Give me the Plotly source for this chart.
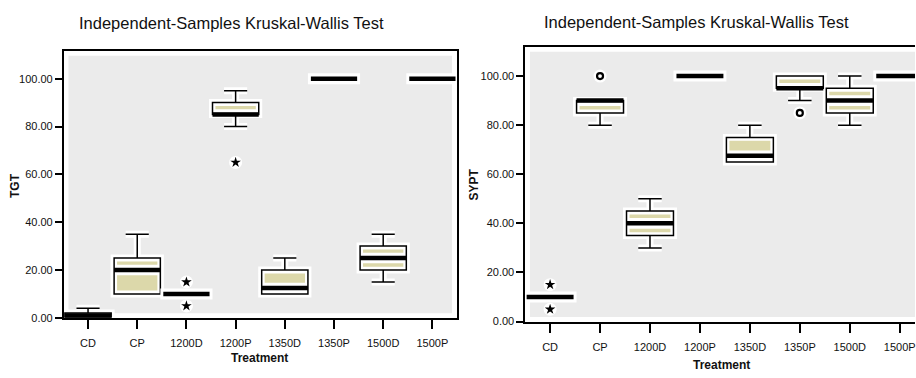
import plotly.graph_objects as go

# ---------------- data ----------------
categories = ["CD", "CP", "1200D", "1200P", "1350D", "1350P", "1500D", "1500P"]

tgt_low = [0, 10, 10, 80, 10, 100, 15, 100]
tgt_q1 = [0, 10, 10, 85, 10, 100, 20, 100]
tgt_med = [1, 20, 10, 85, 12.5, 100, 25, 100]
tgt_q3 = [2, 25, 10, 90, 20, 100, 30, 100]
tgt_high = [4, 35, 10, 95, 25, 100, 35, 100]
tgt_out_cat = ["1200D", "1200D", "1200P"]
tgt_out_val = [15, 5, 65]
tgt_out_kind = ["star", "star", "star"]

sypt_low = [10, 80, 30, 100, 65, 90, 80, 100]
sypt_q1 = [10, 85, 35, 100, 65, 95, 85, 100]
sypt_med = [10, 90, 40, 100, 67.5, 95, 90, 100]
sypt_q3 = [10, 90, 45, 100, 75, 100, 95, 100]
sypt_high = [10, 90, 50, 100, 80, 100, 100, 100]
sypt_out_cat = ["CD", "CD", "CP", "1350P"]
sypt_out_val = [15, 5, 100, 85]
sypt_out_kind = ["star", "star", "circle", "circle"]

y_ticks = [0, 20, 40, 60, 80, 100]

# ---------------- style ----------------
W, H = 916, 378
FONT = "Liberation Sans, Arial, sans-serif"
BG = "#EBEBEB"
BEIGE = "#DCD8AA"
BW = 0.94          # box width (category units)
INSET_EDGE = 1.4   # beige inset from box edge (value units)
INSET_MED = 2.2    # beige inset from median (value units)
INSET_X = 0.06


def px(x):
    return x / W


def py(y):
    return 1 - y / H


fig = go.Figure()


def add_panel(xa, ya, low, q1, med, q3, high, out_cat, out_val, out_kind):
    idx = list(range(len(categories)))
    common = dict(xaxis=xa, yaxis=ya, hoverinfo="skip", showlegend=False)
    # white halo
    fig.add_trace(go.Box(x=idx, q1=q1, median=med, q3=q3, lowerfence=low, upperfence=high,
                         width=BW, whiskerwidth=0.5, fillcolor="white",
                         line=dict(color="white", width=7), boxpoints=False, **common))
    # beige inner bands
    up_x, up_lo, up_hi, dn_x, dn_lo, dn_hi = [], [], [], [], [], []
    for i in idx:
        if (q3[i] - med[i]) - INSET_EDGE - INSET_MED > 0:
            up_x.append(i); up_lo.append(med[i] + INSET_MED); up_hi.append(q3[i] - INSET_EDGE)
        if (med[i] - q1[i]) - INSET_EDGE - INSET_MED > 0:
            dn_x.append(i); dn_lo.append(q1[i] + INSET_EDGE); dn_hi.append(med[i] - INSET_MED)
    for bx, blo, bhi in ((up_x, up_lo, up_hi), (dn_x, dn_lo, dn_hi)):
        if bx:
            fig.add_trace(go.Box(x=bx, q1=blo, median=blo, q3=bhi, lowerfence=blo, upperfence=bhi,
                                 width=BW - 2 * INSET_X, whiskerwidth=0, fillcolor=BEIGE,
                                 line=dict(color=BEIGE, width=0), boxpoints=False, **common))
    # outline
    fig.add_trace(go.Box(x=idx, q1=q1, median=med, q3=q3, lowerfence=low, upperfence=high,
                         width=BW, whiskerwidth=0.5, fillcolor="rgba(0,0,0,0)",
                         line=dict(color="black", width=1.5), boxpoints=False, **common))
    # halo for collapsed boxes
    hx, hy = [], []
    for i in idx:
        if q1[i] == q3[i]:
            hx += [i - BW / 2 - 0.06, i + BW / 2 + 0.06, None]
            hy += [med[i], med[i], None]
    if hx:
        fig.add_trace(go.Scatter(x=hx, y=hy, mode="lines", line=dict(color="white", width=11), **common))
    # thick median
    mx, my = [], []
    for i in idx:
        mx += [i - BW / 2, i + BW / 2, None]
        my += [med[i], med[i], None]
    fig.add_trace(go.Scatter(x=mx, y=my, mode="lines", line=dict(color="black", width=4.5), **common))
    # outliers
    ox = [categories.index(c) for c in out_cat]
    fig.add_trace(go.Scatter(x=ox, y=out_val, mode="markers",
                             marker=dict(symbol="circle", size=13, color="white"), **common))
    sx = [ox[k] for k in range(len(ox)) if out_kind[k] == "star"]
    sy = [out_val[k] for k in range(len(ox)) if out_kind[k] == "star"]
    cx = [ox[k] for k in range(len(ox)) if out_kind[k] == "circle"]
    cy = [out_val[k] for k in range(len(ox)) if out_kind[k] == "circle"]
    if sx:
        fig.add_trace(go.Scatter(x=sx, y=sy, mode="markers",
                                 marker=dict(symbol="star", size=8, color="black", line=dict(width=0)), **common))
    if cx:
        fig.add_trace(go.Scatter(x=cx, y=cy, mode="markers",
                                 marker=dict(symbol="circle-open", size=6, color="black", line=dict(width=2.2, color="black")), **common))


add_panel("x", "y", tgt_low, tgt_q1, tgt_med, tgt_q3, tgt_high, tgt_out_cat, tgt_out_val, tgt_out_kind)
add_panel("x2", "y2", sypt_low, sypt_q1, sypt_med, sypt_q3, sypt_high, sypt_out_cat, sypt_out_val, sypt_out_kind)

xcommon = dict(tickmode="array", tickvals=list(range(len(categories))), ticktext=categories,
               ticks="outside", ticklen=9, tickwidth=1.5, tickcolor="black", ticklabelstandoff=5,
               ticklabeloverflow="allow",
               showline=True, linecolor="black", linewidth=2, showgrid=False, zeroline=False,
               tickfont=dict(family=FONT, size=11, color="#111"), fixedrange=True)
ycommon = dict(tickmode="array", tickvals=y_ticks, ticktext=[f"{v:.2f}" for v in y_ticks],
               ticks="outside", ticklen=7, tickwidth=1.5, tickcolor="black",
               showline=True, linecolor="black", linewidth=2, showgrid=False, zeroline=False,
               tickfont=dict(family=FONT, size=11, color="#111"), fixedrange=True)

fig.update_layout(
    width=W, height=H, margin=dict(l=0, r=0, t=0, b=0),
    paper_bgcolor="white", plot_bgcolor=BG, boxmode="overlay",
    xaxis=dict(domain=[px(64), px(457)], range=[-0.49, 7.49], mirror=True, anchor="y", **xcommon),
    yaxis=dict(domain=[py(323), py(52)], range=[0, 111.5], mirror=True, anchor="x", **ycommon),
    xaxis2=dict(domain=[px(526), 1.0], range=[-0.494, 7.306], mirror=True, anchor="y2", **xcommon),
    yaxis2=dict(domain=[py(326.7), py(48)], range=[0, 111.75], mirror=False, anchor="x2", **ycommon),
    shapes=[
        dict(type="rect", xref="x domain", yref="y domain", x0=0, x1=1, y0=0, y1=1,
             line=dict(color="white", width=9), fillcolor="rgba(0,0,0,0)", layer="below"),
        dict(type="rect", xref="x2 domain", yref="y2 domain", x0=0, x1=1.05, y0=0, y1=1,
             line=dict(color="white", width=9), fillcolor="rgba(0,0,0,0)", layer="below"),
    ],
    annotations=[
        dict(text="Independent-Samples Kruskal-Wallis Test", x=px(232), y=py(23), xref="paper", yref="paper",
             showarrow=False, xanchor="center", yanchor="middle", font=dict(family=FONT, size=16.5, color="#111")),
        dict(text="Independent-Samples Kruskal-Wallis Test", x=px(697), y=py(22), xref="paper", yref="paper",
             showarrow=False, xanchor="center", yanchor="middle", font=dict(family=FONT, size=16.5, color="#111")),
        dict(text="<b>TGT</b>", x=px(15), y=py(188), xref="paper", yref="paper", textangle=-90,
             showarrow=False, xanchor="center", yanchor="middle", font=dict(family=FONT, size=12, color="#111")),
        dict(text="<b>SYPT</b>", x=px(475), y=py(187), xref="paper", yref="paper", textangle=-90,
             showarrow=False, xanchor="center", yanchor="middle", font=dict(family=FONT, size=12, color="#111")),
        dict(text="<b>Treatment</b>", x=px(260), y=py(364), xref="paper", yref="paper",
             showarrow=False, xanchor="center", yanchor="middle", font=dict(family=FONT, size=12, color="#111")),
        dict(text="<b>Treatment</b>", x=px(722), y=py(371), xref="paper", yref="paper",
             showarrow=False, xanchor="center", yanchor="middle", font=dict(family=FONT, size=12, color="#111")),
    ],
)

fig.write_html("out.html")
